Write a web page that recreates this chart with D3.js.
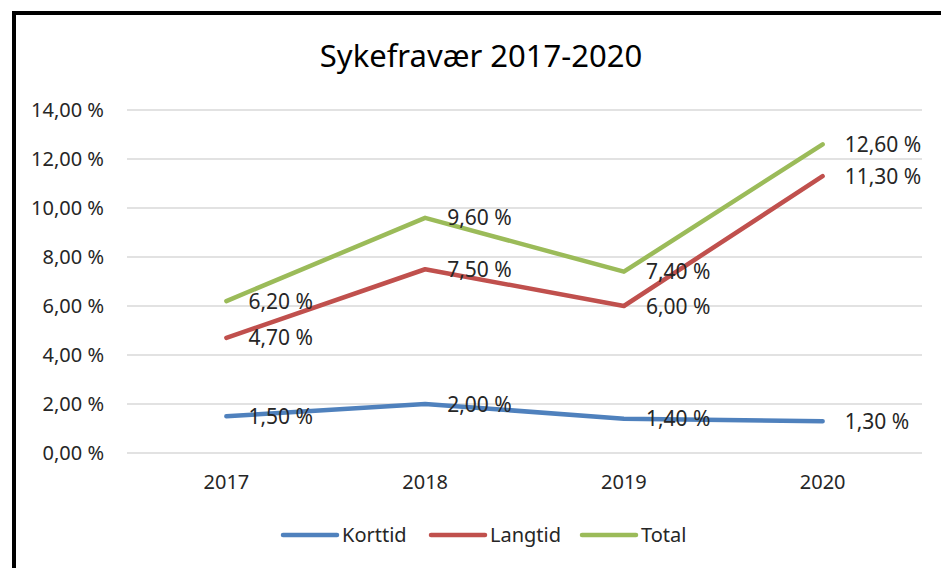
<!DOCTYPE html>
<html>
<head>
<meta charset="utf-8">
<script src="https://cdn.jsdelivr.net/npm/d3@7"></script>
<style>
  body { margin: 0; background: #fff; }
  text { font-family: "Noto Sans", "DejaVu Sans", sans-serif; fill: #262626; }
</style>
</head>
<body>
<div id="chart"></div>
<script>
// data
var years = ["2017", "2018", "2019", "2020"];
var seriesNames = ["Korttid", "Langtid", "Total"];
var korttid = [1.5, 2.0, 1.4, 1.3];
var langtid = [4.7, 7.5, 6.0, 11.3];
var total = [6.2, 9.6, 7.4, 12.6];
var yTicks = [0, 2, 4, 6, 8, 10, 12, 14];
var colors = ["#4f81bd", "#c0504d", "#9bbb59"];

var W = 941, H = 568;
var margin = { top: 110, right: 19, bottom: 115, left: 127 },
    width = W - margin.left - margin.right,
    height = H - margin.top - margin.bottom;

var svg = d3.select("#chart").append("svg")
    .attr("width", W)
    .attr("height", H);

// outer frame (cut off at right and bottom)
svg.append("rect")
    .attr("x", 14).attr("y", 13)
    .attr("width", W + 20).attr("height", H + 20)
    .attr("fill", "none")
    .attr("stroke", "#000")
    .attr("stroke-width", 4);

svg.append("text")
    .attr("x", 481).attr("y", 67)
    .attr("text-anchor", "middle")
    .style("font-size", "31px")
    .style("fill", "#000")
    .text("Sykefravær 2017-2020");

var g = svg.append("g")
    .attr("transform", "translate(" + margin.left + "," + margin.top + ")");

var x = d3.scaleBand().domain(years).range([0, width]);
var y = d3.scaleLinear().domain([0, 14]).range([height, 0]);

var fmt = function (v) { return v.toFixed(2).replace(".", ",") + " %"; };

// gridlines
g.selectAll(".grid")
    .data(yTicks)
    .enter().append("line")
    .attr("x1", 0).attr("x2", width)
    .attr("y1", function (d) { return y(d); })
    .attr("y2", function (d) { return y(d); })
    .attr("stroke", "#d9d9d9")
    .attr("stroke-width", 1.5);

// y axis labels
var yAxis = g.append("g")
    .call(d3.axisLeft(y).tickValues(yTicks).tickFormat(fmt).tickSize(0).tickPadding(23));
yAxis.select(".domain").remove();
yAxis.selectAll("text").style("font-size", "20px").style("font-family", "'Noto Sans', sans-serif").attr("fill", "#262626");

// x axis labels
var xAxis = g.append("g")
    .attr("transform", "translate(0," + height + ")")
    .call(d3.axisBottom(x).tickSize(0).tickPadding(22));
xAxis.select(".domain").remove();
xAxis.selectAll("text").style("font-size", "20px").style("font-family", "'Noto Sans', sans-serif").attr("fill", "#262626");

var series = [korttid, langtid, total];
var line = d3.line()
    .x(function (d, i) { return x(years[i]) + x.bandwidth() / 2; })
    .y(function (d) { return y(d); });

series.forEach(function (vals, si) {
    g.append("path")
        .datum(vals)
        .attr("d", line)
        .attr("fill", "none")
        .attr("stroke", colors[si])
        .attr("stroke-width", 4.5)
        .attr("stroke-linecap", "round")
        .attr("stroke-linejoin", "round");
});

// data labels
series.forEach(function (vals, si) {
    g.selectAll(".lbl" + si)
        .data(vals)
        .enter().append("text")
        .attr("x", function (d, i) { return x(years[i]) + x.bandwidth() / 2 + 22; })
        .attr("y", function (d) { return y(d); })
        .attr("dy", "0.36em")
        .style("font-size", "21px")
        .text(fmt);
});

// legend
var legendX = [283, 431, 582];
var legend = svg.selectAll(".legend")
    .data(seriesNames)
    .enter().append("g")
    .attr("transform", function (d, i) { return "translate(" + legendX[i] + ",535)"; });
legend.append("line")
    .attr("x1", 0).attr("x2", 54)
    .attr("stroke", function (d, i) { return colors[i]; })
    .attr("stroke-width", 4.5)
    .attr("stroke-linecap", "round");
legend.append("text")
    .attr("x", 59).attr("dy", "0.36em")
    .style("font-size", "20px")
    .text(function (d) { return d; });
</script>
</body>
</html>
